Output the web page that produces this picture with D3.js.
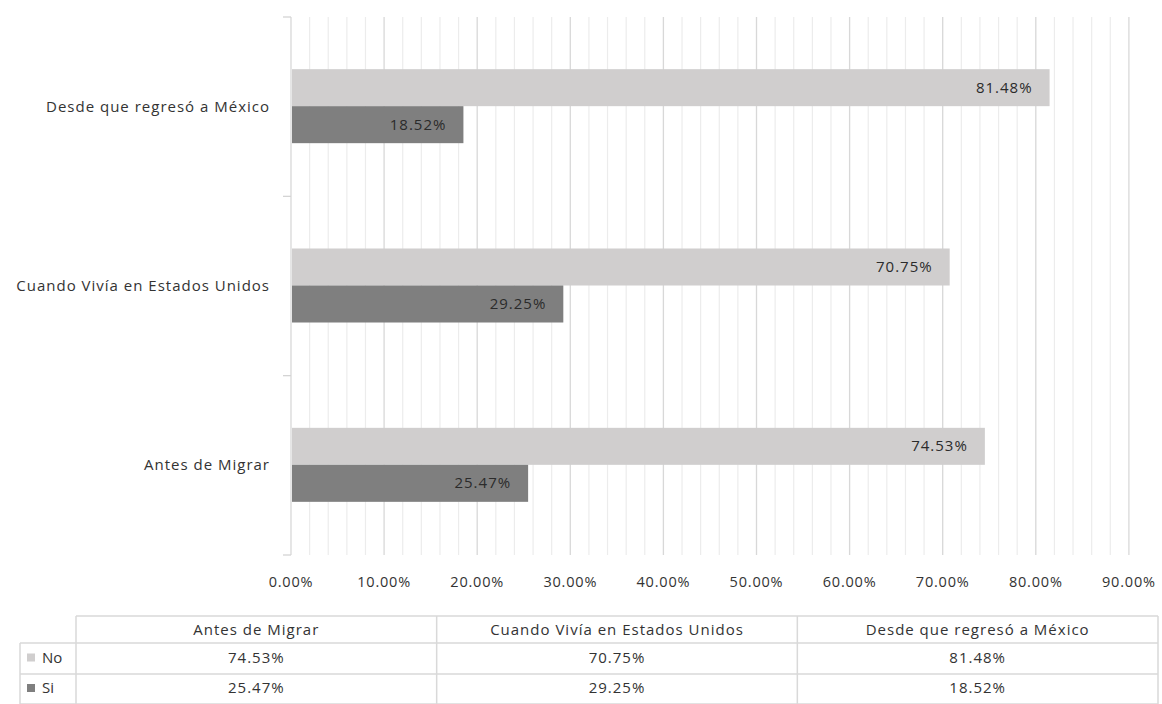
<!DOCTYPE html>
<html>
<head>
<meta charset="utf-8">
<script src="https://cdn.jsdelivr.net/npm/d3@7"></script>
<style>
  html, body { margin: 0; padding: 0; background: #fff; }
  svg { display: block; }
  text { font-family: "Open Sans", "Noto Sans", sans-serif; fill: #333; }
</style>
</head>
<body>
<svg id="chart" width="1162" height="704"></svg>
<script>
// Categories listed bottom-to-top as they appear on the vertical axis
const categories = ["Antes de Migrar", "Cuando Vivía en Estados Unidos", "Desde que regresó a México"];
const seriesNames = ["No", "Si"];
const noValues = [74.53, 70.75, 81.48];
const siValues = [25.47, 29.25, 18.52];
const xTicks = [0, 10, 20, 30, 40, 50, 60, 70, 80, 90];
const seriesColors = ["#d0cece", "#7f7f7f"];

const svg = d3.select("#chart");

const plot = { left: 291, top: 17, bottom: 555 };

const x = d3.scaleLinear().domain([0, 90]).range([plot.left, plot.left + 0.9 * 931]);
// Top band is the last category
const y = d3.scaleBand()
  .domain(categories.slice().reverse())
  .range([plot.top, plot.bottom]);

const g = svg.append("g");

// Minor gridlines every 2%
const minor = d3.range(0, 90.01, 2).filter(v => v % 10 !== 0);
g.selectAll("line.minor").data(minor).join("line")
  .attr("x1", d => x(d)).attr("x2", d => x(d))
  .attr("y1", plot.top).attr("y2", plot.bottom)
  .attr("stroke", "#ececec").attr("stroke-width", 1.2);

// Major gridlines every 10%
g.selectAll("line.major").data(xTicks).join("line")
  .attr("x1", d => x(d)).attr("x2", d => x(d))
  .attr("y1", plot.top).attr("y2", plot.bottom)
  .attr("stroke", "#d8d8d8").attr("stroke-width", 1.3);

// Category axis tick marks at band boundaries
const bounds = [plot.top, ...categories.map(c => y(c) + y.bandwidth())];
g.selectAll("line.ctick").data(bounds).join("line")
  .attr("x1", plot.left - 8).attr("x2", plot.left)
  .attr("y1", d => d).attr("y2", d => d)
  .attr("stroke", "#d4d4d4").attr("stroke-width", 1.3);

// Bars: two per category, value label inside the bar end
const barH = 37;
const rows = categories.map((c, i) => ({ cat: c, vals: [noValues[i], siValues[i]] }));
rows.forEach(r => {
  const cy = y(r.cat) + y.bandwidth() / 2 - 0.5;
  r.vals.forEach((v, k) => {
    const top = cy - barH + k * barH;
    g.append("rect")
      .attr("x", x(0) + 1).attr("y", top)
      .attr("width", x(v) - x(0) - 1).attr("height", barH)
      .attr("fill", seriesColors[k]);
    g.append("text")
      .attr("x", x(v) - 17).attr("y", top + barH / 2 + 1)
      .attr("text-anchor", "end").attr("dominant-baseline", "middle")
      .attr("font-size", 15).attr("letter-spacing", 1)
      .style("fill", "#2b2b2b")
      .text(v.toFixed(2) + "%");
  });
});

// Category labels
g.selectAll("text.cat").data(categories).join("text")
  .attr("x", 270).attr("y", d => y(d) + y.bandwidth() / 2 + 1)
  .attr("text-anchor", "end").attr("dominant-baseline", "middle")
  .attr("font-size", 15).attr("letter-spacing", 1)
  .text(d => d);

// Value axis tick labels
g.selectAll("text.xt").data(xTicks).join("text")
  .attr("x", d => x(d)).attr("y", 583)
  .attr("text-anchor", "middle").attr("dominant-baseline", "middle")
  .attr("font-size", 14.5).attr("letter-spacing", 0.8)
  .text(d => d.toFixed(2) + "%");

// Data table beneath the chart
const tbl = { legendLeft: 20, left: 76, right: 1158, lines: [616, 643, 674, 704] };
const colW = (tbl.right - tbl.left) / categories.length;
const tg = svg.append("g");
const lineStyle = sel => sel.attr("stroke", "#d9d9d9").attr("stroke-width", 1.5);

// horizontal rules
tg.append("line").attr("x1", tbl.left).attr("x2", tbl.right)
  .attr("y1", tbl.lines[0]).attr("y2", tbl.lines[0]).call(lineStyle);
tbl.lines.slice(1).forEach(yy => {
  tg.append("line").attr("x1", tbl.legendLeft).attr("x2", tbl.right)
    .attr("y1", yy).attr("y2", yy).call(lineStyle);
});
// vertical rules
tg.append("line").attr("x1", tbl.legendLeft).attr("x2", tbl.legendLeft)
  .attr("y1", tbl.lines[1]).attr("y2", tbl.lines[3]).call(lineStyle);
d3.range(categories.length + 1).forEach(i => {
  const xx = tbl.left + i * colW;
  tg.append("line").attr("x1", xx).attr("x2", xx)
    .attr("y1", tbl.lines[0]).attr("y2", tbl.lines[3]).call(lineStyle);
});

// header row
categories.forEach((c, i) => {
  tg.append("text")
    .attr("x", tbl.left + (i + 0.5) * colW)
    .attr("y", (tbl.lines[0] + tbl.lines[1]) / 2 + 1)
    .attr("text-anchor", "middle").attr("dominant-baseline", "middle")
    .attr("font-size", 15).attr("letter-spacing", 1)
    .text(c);
});

// series rows
const seriesValues = [noValues, siValues];
seriesNames.forEach((s, k) => {
  const cy = (tbl.lines[k + 1] + tbl.lines[k + 2]) / 2;
  tg.append("rect").attr("x", 27).attr("y", cy - 5).attr("width", 8).attr("height", 8)
    .attr("fill", seriesColors[k]);
  tg.append("text").attr("x", 42).attr("y", cy)
    .attr("dominant-baseline", "middle").attr("font-size", 15)
    .text(s);
  seriesValues[k].forEach((v, i) => {
    tg.append("text")
      .attr("x", tbl.left + (i + 0.5) * colW).attr("y", cy)
      .attr("text-anchor", "middle").attr("dominant-baseline", "middle")
      .attr("font-size", 15).attr("letter-spacing", 1)
      .text(v.toFixed(2) + "%");
  });
});
</script>
</body>
</html>
